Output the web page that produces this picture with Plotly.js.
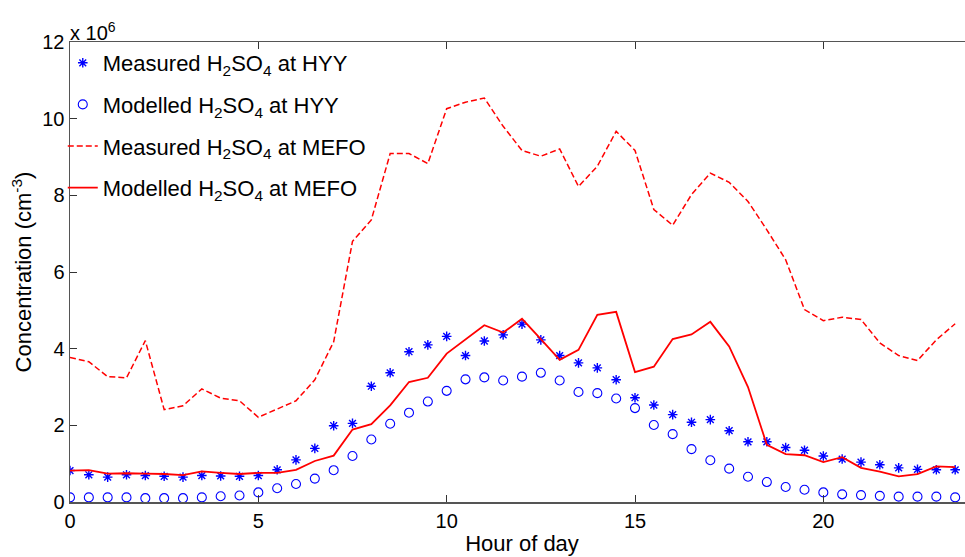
<!DOCTYPE html>
<html>
<head>
<meta charset="utf-8">
<script src="https://cdn.plot.ly/plotly-3.0.1.min.js"></script>
<style>html,body{margin:0;padding:0;background:#fff;overflow:hidden;}#chart{width:974px;height:557px;}</style>
</head>
<body>
<div id="chart"></div>
<script>
// Hour of day (every half hour)
const hours = [0,0.5,1,1.5,2,2.5,3,3.5,4,4.5,5,5.5,6,6.5,7,7.5,8,8.5,9,9.5,10,10.5,11,11.5,12,12.5,13,13.5,14,14.5,15,15.5,16,16.5,17,17.5,18,18.5,19,19.5,20,20.5,21,21.5,22,22.5,23,23.5];
// Concentrations in units of 1e6 cm^-3
const measuredHYY = [0.82,0.71,0.65,0.71,0.69,0.67,0.65,0.69,0.68,0.67,0.69,0.84,1.10,1.40,1.99,2.05,3.02,3.37,3.92,4.10,4.32,3.82,4.20,4.36,4.64,4.23,3.82,3.63,3.50,3.19,2.72,2.53,2.28,2.08,2.15,1.86,1.57,1.57,1.42,1.35,1.20,1.12,1.04,0.97,0.89,0.85,0.84,0.84];
const modelledHYY = [0.12,0.12,0.12,0.12,0.10,0.10,0.10,0.12,0.15,0.17,0.25,0.36,0.47,0.61,0.83,1.20,1.63,2.04,2.33,2.62,2.90,3.20,3.25,3.17,3.27,3.37,3.17,2.87,2.84,2.70,2.45,2.01,1.77,1.38,1.09,0.87,0.66,0.52,0.39,0.32,0.25,0.20,0.18,0.16,0.14,0.14,0.14,0.12];
const measuredMEFO = [3.77,3.66,3.27,3.24,4.21,2.41,2.51,2.95,2.71,2.64,2.21,2.43,2.64,3.19,4.18,6.80,7.36,9.09,9.09,8.83,10.26,10.43,10.54,9.80,9.17,9.02,9.21,8.23,8.76,9.67,9.17,7.63,7.22,8.02,8.58,8.34,7.84,7.10,6.32,5.02,4.73,4.82,4.76,4.15,3.82,3.69,4.23,4.65];
const modelledMEFO = [0.82,0.83,0.74,0.75,0.74,0.73,0.70,0.80,0.76,0.73,0.76,0.76,0.84,1.07,1.21,1.89,2.03,2.52,3.13,3.24,3.87,4.23,4.61,4.42,4.78,4.25,3.71,3.97,4.88,4.96,3.39,3.53,4.25,4.37,4.70,4.06,3.00,1.49,1.25,1.22,1.04,1.17,0.89,0.79,0.67,0.73,0.93,0.91];
const seriesNames = ['Measured H<sub>2</sub>SO<sub>4</sub> at HYY','Modelled H<sub>2</sub>SO<sub>4</sub> at HYY','Measured H<sub>2</sub>SO<sub>4</sub> at MEFO','Modelled H<sub>2</sub>SO<sub>4</sub> at MEFO'];
const yTicks = [0,2,4,6,8,10,12];
const xTicks = [0,5,10,15,20];

const FONT = 'Liberation Sans, Arial, Helvetica, sans-serif';
const traces = [
  {x: hours, y: measuredHYY, name: seriesNames[0], legendgroup: 'g1', mode: 'markers', type: 'scatter',
   marker: {symbol: 'asterisk-open', size: 8, color: '#0000ff', line: {color: '#0000ff', width: 1.4}}},
  {x: hours, y: modelledHYY, name: seriesNames[1], legendgroup: 'g2', mode: 'markers', type: 'scatter',
   marker: {symbol: 'circle-open', size: 9, color: '#0000ff', line: {color: '#0000ff', width: 1.1}}},
  {x: hours, y: measuredMEFO, name: seriesNames[2], legendgroup: 'g3', mode: 'lines', type: 'scatter',
   line: {color: '#ff0000', width: 1.5, dash: '6px,3px'}},
  {x: hours, y: modelledMEFO, name: seriesNames[3], legendgroup: 'g4', mode: 'lines', type: 'scatter',
   line: {color: '#ff0000', width: 1.8}}
];
const layout = {
  width: 974, height: 557,
  margin: {l: 70, r: 0, t: 42, b: 55},
  paper_bgcolor: '#fff', plot_bgcolor: '#fff',
  font: {family: FONT, size: 20, color: '#000'},
  showlegend: true,
  legend: {x: -0.008, y: 1.0, xanchor: 'left', yanchor: 'top', bgcolor: 'rgba(0,0,0,0)',
           font: {family: FONT, size: 22, color: '#000'}, tracegroupgap: 10},
  xaxis: {range: [0, 24], tickvals: xTicks, ticktext: xTicks.map(String), ticks: 'inside', ticklen: 7,
          tickcolor: '#333', showline: true, linecolor: '#555', linewidth: 1.5, mirror: 'ticks',
          showgrid: false, zeroline: false, tickfont: {size: 20},
          title: {text: 'Hour of day', font: {size: 22}, standoff: 5}},
  yaxis: {range: [0, 12], tickvals: yTicks, ticktext: yTicks.map(String), ticks: 'inside', ticklen: 7,
          tickcolor: '#333', showline: true, linecolor: '#555', linewidth: 1.5, mirror: 'ticks',
          showgrid: false, zeroline: false, tickfont: {size: 20},
          title: {text: 'Concentration (cm<sup>-3</sup>)', font: {size: 22}, standoff: 4}},
  annotations: [{xref: 'paper', yref: 'paper', x: 0, y: 1, xanchor: 'left', yanchor: 'bottom',
                 xshift: -2, yshift: -4, showarrow: false, text: 'x 10<sup>6</sup>', font: {size: 20}}]
};
Plotly.newPlot('chart', traces, layout, {displayModeBar: false, staticPlot: true});
</script>
</body>
</html>
